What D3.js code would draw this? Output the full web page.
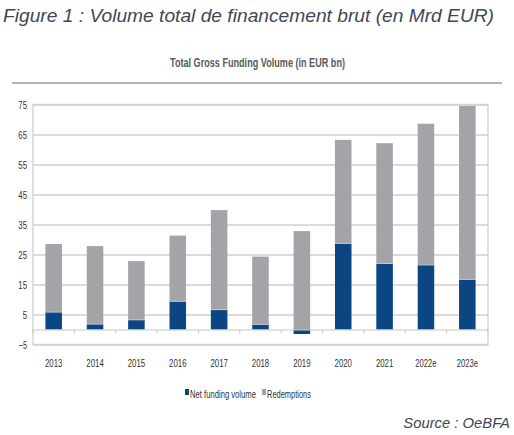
<!DOCTYPE html>
<html><head><meta charset="utf-8">
<script src="https://cdn.jsdelivr.net/npm/d3@7"></script>
<style>
body{margin:0;background:#fff;}
svg{display:block;}
</style></head>
<body>
<svg id="c" width="514" height="435"></svg>
<script>
const categories = ["2013","2014","2015","2016","2017","2018","2019","2020","2021","2022e","2023e"];
const netFunding = [5.8, 1.8, 3.2, 9.4, 6.6, 1.7, -1.5, 28.7, 22.0, 21.5, 16.7];
const redemptions = [22.7, 26.0, 19.6, 21.9, 33.2, 22.6, 32.8, 34.5, 40.1, 47.1, 57.8];
const yTicks = [-5, 5, 15, 25, 35, 45, 55, 65, 75];
const seriesNames = ["Net funding volume", "Redemptions"];
const colors = ["#0b4682", "#a3a3a8"];

const svg = d3.select("#c");
const narrow = "Arial, 'Liberation Sans', sans-serif";
function squeeze(sel, perChar) {
  sel.each(function() {
    const t = this.textContent;
    let w = 0;
    for (const ch of t) w += (/[0-9]/.test(ch) ? 4.35 : ch === "-" ? 2.6 : ch === " " ? 1.6 : /[mwMW]/.test(ch) ? 5.6 : /[iltfjI(): ]/.test(ch) ? 2.0 : 3.9) * perChar;
    d3.select(this).attr("textLength", w).attr("lengthAdjust", "spacingAndGlyphs");
  });
}

svg.append("text").attr("x", 3).attr("y", 22)
  .attr("font-family", "Arial, 'Liberation Sans', sans-serif")
  .attr("font-style", "italic").attr("font-size", 18.5).attr("fill", "#3f4756")
  .attr("textLength", 491).attr("lengthAdjust", "spacingAndGlyphs")
  .text("Figure 1 : Volume total de financement brut (en Mrd EUR)");

svg.append("text").attr("x", 257.5).attr("y", 67).attr("text-anchor", "middle")
  .attr("font-family", narrow).attr("font-size", 13.5).attr("font-weight", "bold")
  .attr("fill", "#5a5a5a").attr("textLength", 175).attr("lengthAdjust", "spacingAndGlyphs")
  .text("Total Gross Funding Volume (in EUR bn)");

svg.append("line").attr("x1", 12).attr("x2", 502).attr("y1", 83).attr("y2", 83)
  .attr("stroke", "#9a9a9a").attr("stroke-width", 1.5);

const x = d3.scaleBand().domain(categories).range([33, 488]).paddingInner(0.6).paddingOuter(0.3);
const y = d3.scaleLinear().domain([-5, 75]).range([344.5, 104.5]);

svg.append("rect").attr("x", 33).attr("y", y(75)).attr("width", 455).attr("height", y(-5) - y(75))
  .attr("fill", "none").attr("stroke", "#d6d6d6").attr("stroke-width", 1.5);

const yAxis = d3.axisLeft(y).tickValues(yTicks).tickSize(-455).tickFormat(d3.format("d"));
const gy = svg.append("g").attr("transform", "translate(33,0)").call(yAxis);
gy.select(".domain").remove();
gy.selectAll(".tick line").attr("stroke", "#cfcfcf").attr("stroke-width", 1.5);
gy.selectAll(".tick text").attr("x", -6).attr("font-family", narrow).attr("font-size", 11.5).attr("fill", "#333")
  .call(squeeze, 1);

const stackData = categories.map((c, i) => ({cat: c, net: netFunding[i], red: redemptions[i]}));
const g = svg.append("g");
stackData.forEach(d => {
  const bx = x(d.cat), bw = x.bandwidth();
  const n0 = Math.min(0, d.net), n1 = Math.max(0, d.net);
  g.append("rect").attr("x", bx).attr("width", bw)
    .attr("y", y(n1)).attr("height", y(n0) - y(n1)).attr("fill", colors[0]);
  const base = d.net > 0 ? d.net : 0;
  g.append("rect").attr("x", bx).attr("width", bw)
    .attr("y", y(base + d.red)).attr("height", y(base) - y(base + d.red)).attr("fill", colors[1]);
  g.append("line").attr("x1", bx).attr("x2", bx + bw).attr("y1", y(base)).attr("y2", y(base))
    .attr("stroke", "#c9d2de").attr("stroke-width", 0.8).attr("opacity", d.net > 0 ? 1 : 0);
});

const xAxis = d3.axisBottom(x).tickSize(0);
const gx = svg.append("g").attr("transform", `translate(0,${y(0)})`).call(xAxis);
gx.select(".domain").attr("stroke", "#c8c8c8").attr("stroke-width", 1.2);
gx.selectAll(".tick text").remove();
const step = x.step();
d3.range(categories.length + 1).forEach(i => {
  const tx = 33 + i * step;
  gx.append("line").attr("x1", tx).attr("x2", tx).attr("y1", 0).attr("y2", 4)
    .attr("stroke", "#c8c8c8").attr("stroke-width", 1);
});

const labAxis = d3.axisBottom(x).tickSize(0).tickPadding(0);
const gl = svg.append("g").attr("transform", "translate(0,359)").call(labAxis);
gl.select(".domain").remove();
gl.selectAll(".tick text").attr("font-family", narrow).attr("font-size", 11.5).attr("fill", "#333")
  .attr("dy", "0.71em").call(squeeze, 1);

// legend (condensed via horizontal scale)
const legX = [185, 262];
const legW = [66, 44];
seriesNames.forEach((s, i) => {
  svg.append("rect").attr("x", legX[i]).attr("y", 389).attr("width", 4).attr("height", 6).attr("fill", colors[i]);
  const t = svg.append("text").attr("font-family", narrow)
    .attr("font-size", 11).attr("fill", "#333").text(s);
  const nat = t.node().getComputedTextLength();
  const sx = legW[i] / nat;
  t.attr("transform", `translate(${legX[i] + 5},397.5) scale(${sx},1)`);
});

svg.append("text").attr("x", 510).attr("y", 428).attr("text-anchor", "end")
  .attr("font-family", "Arial, 'Liberation Sans', sans-serif").attr("font-style", "italic")
  .attr("font-size", 14.8).attr("fill", "#3f4756").text("Source : OeBFA");
</script>
</body></html>
